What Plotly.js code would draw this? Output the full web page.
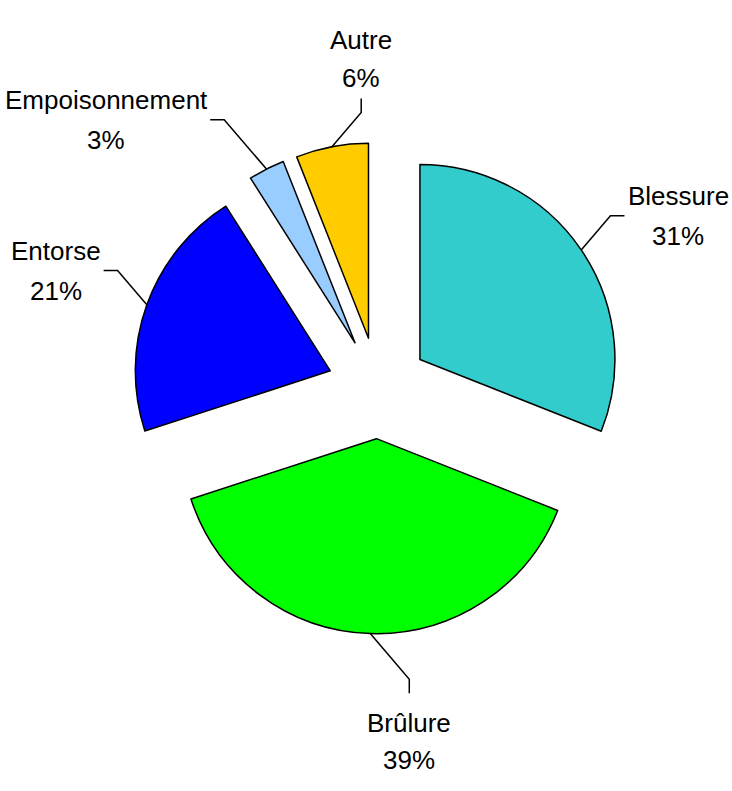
<!DOCTYPE html>
<html>
<head>
<meta charset="utf-8">
<script src="https://cdn.plot.ly/plotly-3.0.1.min.js"></script>
<style>html,body{margin:0;padding:0;background:#fff;}#chart{width:732px;height:791px;}</style>
</head>
<body>
<div id="chart"></div>
<script>
const labels = ['Blessure', 'Brûlure', 'Entorse', 'Empoisonnement', 'Autre'];
const values = [31, 39, 21, 3, 6];
const colors = ['#33CCCC', '#00FF00', '#0000FF', '#99CCFF', '#FFCC00'];
const pulls = [0.26, 0.26, 0.26, 0.26, 0.26];

const W = 732, H = 791;
const CX = 378, CY = 388, R = 195;
const maxPull = Math.max.apply(null, pulls);
const half = R * (1 + maxPull);
const FONT = 'Liberation Sans, Arial, sans-serif';
const FS = 26;

const total = values.reduce((a, b) => a + b, 0);
const px = x => x / W;
const py = y => 1 - y / H;

const annotations = [];
const shapes = [];
const ctx = document.createElement('canvas').getContext('2d');
ctx.font = FS + 'px "Liberation Sans"';
let cum = 0;
values.forEach((v, i) => {
  const mid = (cum + v / 2) / total * 2 * Math.PI;
  cum += v;
  const ux = Math.sin(mid), uy = -Math.cos(mid);
  const rr = R * (1 + pulls[i]);
  const ax = CX + rr * ux, ay = CY + rr * uy;
  const side = Math.abs(ux) > 0.3;
  let L = 45;
  if (side && uy < 0 && Math.abs(ux) < 0.6) L = 65;
  if (!side && uy > 0) L = 60;
  const sx = side ? Math.sign(ux) : 1;
  const sy = Math.sign(uy);
  const ex = ax + L * 0.65 * sx, ey = ay + L * 0.76 * sy;
  let fx, fy;
  if (side) { fx = ex + 14 * sx; fy = ey; }
  else { fx = ex; fy = ey + 14 * sy; }
  shapes.push({
    type: 'path', xref: 'paper', yref: 'paper',
    path: 'M ' + px(ax) + ' ' + py(ay) + ' L ' + px(ex) + ' ' + py(ey) + ' L ' + px(fx) + ' ' + py(fy),
    line: { color: '#000', width: 1.5 }
  });
  const pct = Math.round(v / total * 100) + '%';
  const bw = Math.max(ctx.measureText(labels[i]).width, ctx.measureText(pct).width);
  let bx, nameY, pctY;
  if (side) {
    bx = fx + sx * (bw / 2 + 3);
    nameY = fy - 20; pctY = fy + 20;
  } else if (uy < 0) {
    bx = fx; pctY = fy - 20; nameY = fy - 58;
  } else {
    bx = fx; nameY = fy + 30; pctY = fy + 67;
  }
  [[labels[i], nameY], [pct, pctY]].forEach(t => {
    annotations.push({
      text: t[0], x: px(bx), y: py(t[1]), xref: 'paper', yref: 'paper',
      xanchor: 'center', yanchor: 'middle', showarrow: false,
      font: { family: FONT, size: FS, color: '#000' }
    });
  });
});

const data = [{
  type: 'pie',
  labels: labels,
  values: values,
  pull: pulls,
  sort: false,
  direction: 'clockwise',
  rotation: 0,
  textinfo: 'none',
  hoverinfo: 'label+percent',
  marker: { colors: colors, line: { color: '#000', width: 1.5 } },
  domain: { x: [px(CX - half), px(CX + half)], y: [py(CY + half), py(CY - half)] },
  showlegend: false
}];

const layout = {
  width: W, height: H,
  margin: { l: 0, r: 0, t: 0, b: 0 },
  paper_bgcolor: '#fff',
  showlegend: false,
  annotations: annotations,
  shapes: shapes
};

Plotly.newPlot('chart', data, layout, { displayModeBar: false, staticPlot: true });
</script>
</body>
</html>
